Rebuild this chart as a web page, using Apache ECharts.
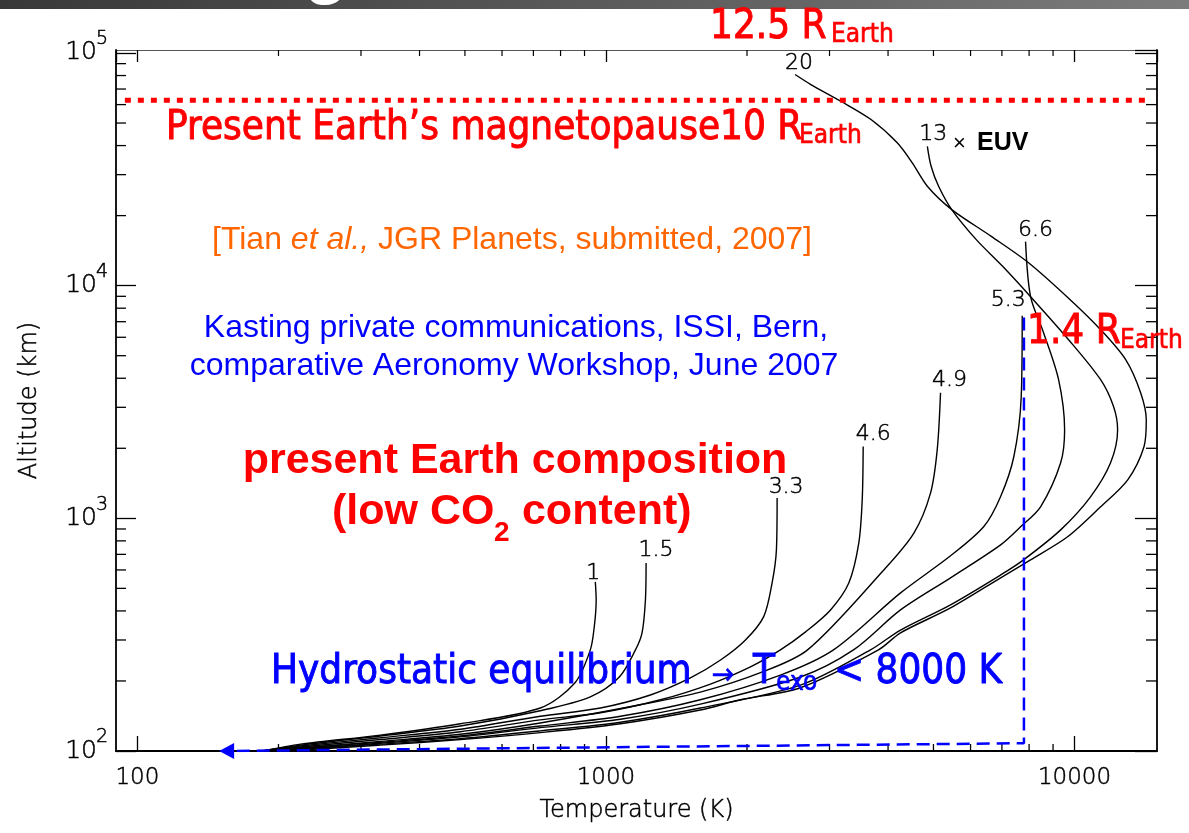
<!DOCTYPE html>
<html><head><meta charset="utf-8">
<script src="https://cdn.jsdelivr.net/npm/echarts@6/dist/echarts.min.js"></script>
<style>html,body{margin:0;padding:0;background:#fff}#chart{width:1189px;height:833px}</style>
</head><body><div id="chart"></div>
<script>
// ---------- data (temperature K, altitude km), each curve listed from its top end down ----------
const curveNames = ['1', '1.5', '3.3', '4.6', '4.9', '5.3', '6.6', '13', '20'];
const curve_1 = [[949,533],[953,446],[945,348],[926,272],[858,196],[724,153],[489,131],[330,117],[223,107],[185,100]];
const curve_1_5 = [[1218,642],[1214,446],[1194,322],[1156,272],[1068,208],[926,171],[724,149],[489,128],[330,116],[223,106],[185,100]];
const curve_3_3 = [[2319,1222],[2311,732],[2262,527],[2171,378],[1985,300],[1756,246],[1514,206],[1244,174],[973,153],[724,141],[489,124],[330,114],[223,105],[185,100]];
const curve_4_6 = [[3540,2036],[3523,1201],[3464,782],[3298,527],[3015,404],[2667,325],[2357,272],[2034,230],[1671,194],[1307,166],[973,146],[724,136],[489,121],[330,112],[223,104],[185,100]];
const curve_4_9 = [[5177,3466],[5093,1970],[4928,1284],[4541,864],[3917,600],[2693,272],[2137,217],[1590,179],[1184,158],[724,132],[489,118],[330,110],[223,103],[185,100]];
const curve_5_3 = [[7734,7430],[7697,3341],[7423,1844],[6956,1241],[6405,922],[5438,690],[4253,478],[3059,272],[2357,212],[1590,166],[1074,141],[724,128],[489,116],[330,109],[223,103],[185,100]];
const curve_6_6 = [[7862,15460],[8058,8968],[8590,6279],[9248,3942],[9526,2402],[9342,1732],[8464,1121],[7671,919],[6956,769],[5438,555],[4253,404],[3375,272],[2601,208],[1590,159],[1074,137],[724,126],[489,115],[330,108],[223,102],[185,100]];
const curve_13 = [[4852,39720],[4943,32600],[5128,26740],[5470,21230],[6171,15770],[7024,12110],[8058,8968],[9714,5858],[11370,3942],[12120,3017],[12360,2402],[11940,1732],[10820,1237],[9342,892],[7785,663],[6956,571],[5438,425],[4253,331],[3669,272],[2601,192],[1590,153],[1074,133],[724,122],[489,113],[330,107],[223,102],[185,100]];
const curve_20 = [[2533,80810],[2737,73190],[3172,62030],[3679,51760],[4185,41100],[4506,33700],[4852,26740],[5470,21230],[6644,16290],[7990,12520],[9790,8705],[11370,6469],[12860,4806],[13840,3466],[14230,2653],[14070,2030],[12990,1464],[11370,1121],[9667,833],[8058,663],[6956,555],[5438,412],[4253,322],[3816,272],[2601,187],[1936,166],[1590,150],[1074,131],[724,120],[489,112],[330,106],[223,101],[185,100]];
const curves = [curve_1, curve_1_5, curve_3_3, curve_4_6, curve_4_9, curve_5_3, curve_6_6, curve_13, curve_20];

// magnetopause (10 R_Earth) dotted line, km, and its horizontal extent (K)
const magnetopauseAlt = 62700;
const magnetopauseSpan = [94, 14540];
// hydrostatic-limit dashed guide (T, altitude) ending in an arrow
const hydroGuide = [[7800, 7300], [7800, 108], [155, 100]];

// axes
const tempRange = [90, 15000];
const altRange = [100, 103000];
const minorTicksT = [200,300,400,500,600,700,800,900,2000,3000,4000,5000,6000,7000,8000,9000];
const minorTicksAlt = [200,300,400,500,600,700,800,900,2000,3000,4000,5000,6000,7000,8000,9000,20000,30000,40000,50000,60000,70000,80000,90000];

// ---------- styling ----------
const HERSHEY = "'DejaVu Sans', sans-serif";
const HW = 200;
const HB = {textBorderColor: '#000', textBorderWidth: 0.5};
const SLIDE = "'DejaVu Sans Condensed', 'Liberation Sans', sans-serif";
const ARIAL = "'Liberation Sans', Arial, sans-serif";
const labelOffsets = {'1':[-2,2],'1.5':[10,-2],'3.3':[9,0],'4.6':[10,-1],'4.9':[9,-1],'5.3':[-14,-4],'6.6':[10,0],'13':[6,-1],'20':[4,0]};

function isPow10(v){ const l = Math.log10(v); return Math.abs(l - Math.round(l)) < 1e-6; }

const chart = echarts.init(document.getElementById('chart'), null, {renderer:'canvas'});

const curveSeries = curves.map((pts, k) => {
  const name = curveNames[k];
  return {
    type: 'line', name: name, silent: true, animation: false, z: 3,
    xAxisIndex: 0, yAxisIndex: 0,
    showSymbol: true, symbol: 'circle', symbolSize: 0, smooth: 0.3,
    lineStyle: {color: '#000', width: 1.4}, itemStyle: {color: '#000'},
    label: {show: false},
    data: pts.map((p, i) => i === 0 ? {
      value: p,
      label: Object.assign({show: true, formatter: name, position: 'top', distance: 0, offset: labelOffsets[name],
              fontFamily: HERSHEY, fontWeight: HW, fontSize: 22, color: '#000'}, HB)
    } : p)
  };
});

function minorX(params, api) {
  const v = api.value(0);
  const b = api.coord([v, altRange[0]]);
  const t = api.coord([v, altRange[1]]);
  return {type: 'group', children: [
    {type: 'line', shape: {x1: b[0], y1: b[1], x2: b[0], y2: b[1] - 7}, style: {stroke: '#000', lineWidth: 1.3}},
    {type: 'line', shape: {x1: t[0], y1: t[1], x2: t[0], y2: t[1] + 6}, style: {stroke: '#000', lineWidth: 1.2}}
  ]};
}
function minorY(params, api) {
  const v = api.value(1);
  const l = api.coord([tempRange[0], v]);
  const r = api.coord([tempRange[1], v]);
  return {type: 'group', children: [
    {type: 'line', shape: {x1: l[0], y1: l[1], x2: l[0] + 10, y2: l[1]}, style: {stroke: '#000', lineWidth: 1.3}},
    {type: 'line', shape: {x1: r[0], y1: r[1], x2: r[0] - 11, y2: r[1]}, style: {stroke: '#000', lineWidth: 1.3}}
  ]};
}

const axisLineStyle = {color: '#000', width: 1.8};
const slideText = (x, y, text, size, color, extra) => Object.assign({type: 'text', z: 60, style: Object.assign({
  x: x, y: y, text: text, font: size + 'px ' + SLIDE, fill: color, stroke: color, lineWidth: 0.9,
  textAlign: 'left', textVerticalAlign: 'middle'}, extra || {})});

const option = {
  backgroundColor: '#fff',
  animation: false,
  grid: {left: 116, right: 32, top: 50, bottom: 82, containLabel: false, outerBoundsMode: 'none'},
  xAxis: [
    {type: 'log', min: tempRange[0], max: tempRange[1], position: 'bottom',
     name: 'Temperature (K)', nameLocation: 'middle', nameGap: 48,
     nameTextStyle: Object.assign({fontFamily: HERSHEY, fontWeight: HW, fontSize: 24, color: '#000'}, HB),
     axisLine: {show: true, onZero: false, lineStyle: axisLineStyle},
     axisTick: {show: true, inside: true, length: 15, lineStyle: {color: '#000', width: 1.3}},
     axisLabel: Object.assign({show: true, margin: 16, fontFamily: HERSHEY, fontWeight: HW, fontSize: 23, color: '#000',
                 showMinLabel: false, showMaxLabel: false,
                 formatter: v => isPow10(v) ? String(Math.round(v)) : ''}, HB),
     splitLine: {show: false}, minorTick: {show: false}},
    {type: 'log', min: tempRange[0], max: tempRange[1], position: 'top',
     axisLine: {show: true, onZero: false, lineStyle: {color: '#555', width: 1.2}},
     axisTick: {show: true, inside: true, length: 12, lineStyle: {color: '#000', width: 1.3}},
     axisLabel: {show: false}, splitLine: {show: false}}
  ],
  yAxis: [
    {type: 'log', min: altRange[0], max: altRange[1], position: 'left',
     name: 'Altitude (km)', nameLocation: 'middle', nameGap: 74, nameRotate: 90,
     nameTextStyle: Object.assign({fontFamily: HERSHEY, fontWeight: HW, fontSize: 24, color: '#000'}, HB),
     axisLine: {show: true, onZero: false, lineStyle: axisLineStyle},
     axisTick: {show: true, inside: true, length: 20, lineStyle: {color: '#000', width: 1.3}},
     axisLabel: Object.assign({show: true, margin: 19, color: '#000', fontFamily: HERSHEY, fontWeight: HW, fontSize: 25,
       verticalAlign: 'middle', padding: [7, 0, 0, 0], showMaxLabel: false,
       formatter: v => isPow10(v) ? '10' : ''}, HB),
     splitLine: {show: false}},
    {type: 'log', min: altRange[0], max: altRange[1], position: 'right',
     axisLine: {show: true, onZero: false, lineStyle: axisLineStyle},
     axisTick: {show: true, inside: true, length: 22, lineStyle: {color: '#000', width: 1.3}},
     axisLabel: {show: false}, splitLine: {show: false}},
    {type: 'log', min: altRange[0], max: altRange[1], position: 'left',
     axisLine: {show: false}, axisTick: {show: false}, splitLine: {show: false},
     axisLabel: Object.assign({show: true, margin: 8, color: '#000', fontFamily: HERSHEY, fontWeight: HW, fontSize: 19,
       verticalAlign: 'bottom', lineHeight: 19, padding: [0, 0, 4, 0], showMaxLabel: false,
       formatter: v => isPow10(v) ? String(Math.round(Math.log10(v))) : ''}, HB)}
  ],
  series: [
    {type: 'custom', silent: true, z: 2, renderItem: minorX, data: minorTicksT.map(v => [v, altRange[0]])},
    {type: 'custom', silent: true, z: 2, renderItem: minorY, data: minorTicksAlt.map(v => [tempRange[0], v])},
    ...curveSeries,
    {type: 'line', silent: true, z: 4, showSymbol: false, symbol: 'none',
     data: magnetopauseSpan.map(t => [t, magnetopauseAlt]),
     lineStyle: {color: '#ff0000', width: 5, type: [6, 7], cap: 'butt'}},
    {type: 'line', silent: true, z: 5, showSymbol: true, symbol: 'none',
     itemStyle: {color: '#0000ff'},
     data: hydroGuide.map((p, i) => i === hydroGuide.length - 1 ?
       {value: p, symbol: 'triangle', symbolSize: [16, 15], symbolRotate: 90, itemStyle: {color: '#0000ff'}} : p),
     lineStyle: {color: '#0000ff', width: 2.5, type: [13, 7]}}
  ],
  graphic: [
    {type: 'rect', z: 50, shape: {x: 0, y: 0, width: 1189, height: 9},
     style: {fill: new echarts.graphic.LinearGradient(0, 0, 1, 0, [{offset: 0, color: '#383838'}, {offset: 1, color: '#7c7c7c'}])}},
    {type: 'text', z: 51, style: {x: 304, y: -30, text: 'g', font: 'bold 72px ' + ARIAL, fill: '#ffffff', textAlign: 'left', textVerticalAlign: 'middle'}},
    // red annotations
    slideText(710, 28, '12.5 R', 40, '#ff0000'),
    slideText(831, 35, 'Earth', 26, '#ff0000', {lineWidth: 0.6}),
    slideText(166, 129, 'Present Earth\u2019s magnetopause10 R', 40, '#ff0000'),
    slideText(799, 136, 'Earth', 26, '#ff0000', {lineWidth: 0.6}),
    slideText(1027, 333, '1.4 R', 40, '#ff0000'),
    slideText(1120, 341, 'Earth', 26, '#ff0000', {lineWidth: 0.6}),
    // citation texts
    {type: 'text', z: 60, style: {x: 512, y: 240, text: '{n|[Tian }{i|et al.,}{n| JGR Planets, submitted, 2007]}', textAlign: 'center', textVerticalAlign: 'middle',
      rich: {n: {fontFamily: ARIAL, fontSize: 32, fill: '#ff6600'}, i: {fontFamily: ARIAL, fontSize: 32, fontStyle: 'italic', fill: '#ff6600'}}}},
    {type: 'text', z: 60, style: {x: 516, y: 328, text: 'Kasting private communications, ISSI, Bern,', font: '32px ' + ARIAL, fill: '#0000ff', textAlign: 'center', textVerticalAlign: 'middle'}},
    {type: 'text', z: 60, style: {x: 514, y: 366, text: 'comparative Aeronomy Workshop, June 2007', font: '32px ' + ARIAL, fill: '#0000ff', textAlign: 'center', textVerticalAlign: 'middle'}},
    // composition
    {type: 'text', z: 60, style: {x: 515, y: 461, text: 'present Earth composition', font: 'bold 43px ' + ARIAL, fill: '#ff0000', textAlign: 'center', textVerticalAlign: 'middle'}},
    {type: 'text', z: 60, style: {x: 332, y: 512, text: '(low CO', font: 'bold 43px ' + ARIAL, fill: '#ff0000', textAlign: 'left', textVerticalAlign: 'middle'}},
    {type: 'text', z: 60, style: {x: 494, y: 533, text: '2', font: 'bold 28px ' + ARIAL, fill: '#ff0000', textAlign: 'left', textVerticalAlign: 'middle'}},
    {type: 'text', z: 60, style: {x: 510, y: 512, text: ' content)', font: 'bold 43px ' + ARIAL, fill: '#ff0000', textAlign: 'left', textVerticalAlign: 'middle'}},
    // EUV
    {type: 'text', z: 60, style: {x: 953, y: 144, text: '\u00d7', font: '22px ' + ARIAL, fill: '#000', textAlign: 'left', textVerticalAlign: 'middle'}},
    {type: 'text', z: 60, style: {x: 977, y: 143, text: 'EUV', font: 'bold 25px ' + ARIAL, fill: '#000', textAlign: 'left', textVerticalAlign: 'middle'}},
    // hydrostatic
    slideText(271, 673, 'Hydrostatic equilibrium', 40, '#0000ff'),
    slideText(723, 676, '\u2192', 30, '#0000ff', {textAlign: 'center', lineWidth: 0.5}),
    slideText(753, 673, 'T', 40, '#0000ff'),
    slideText(776, 683, 'exo', 26, '#0000ff', {lineWidth: 0.6}),
    slideText(834, 673, '< 8000 K', 40, '#0000ff')
  ]
};
chart.setOption(option);
</script>
</body></html>
